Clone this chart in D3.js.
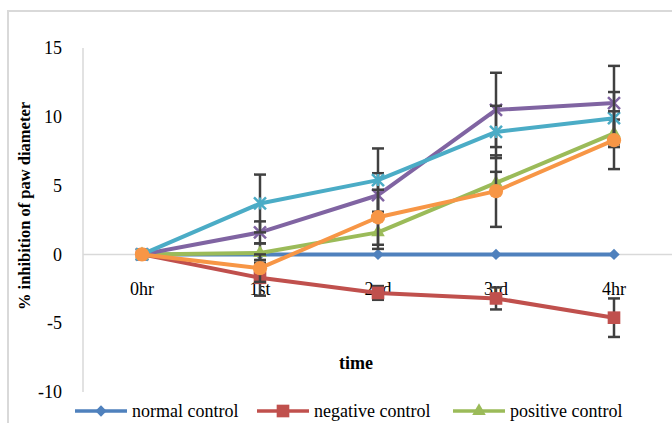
<!DOCTYPE html>
<html>
<head>
<meta charset="utf-8">
<script src="https://cdn.jsdelivr.net/npm/d3@7"></script>
<style>
  html, body { margin: 0; padding: 0; background: #fff; }
  svg { display: block; font-family: "Liberation Serif", "Times New Roman", serif; }
</style>
</head>
<body>
<div id="chart"></div>
<script>
// categories on the x axis
const categories = ["0hr", "1st", "2nd", "3rd", "4hr"];
const yTicks = [-10, -5, 0, 5, 10, 15];

const seriesNames = ["normal control", "negative control", "positive control", "extract 1", "extract 2", "extract 3"];
const colors = ["#4F81BD", "#C0504D", "#9BBB59", "#8064A2", "#4BACC6", "#F79646"];
const markers = ["diamond", "square", "triangle", "x", "star", "circle"];

// values
const normalControl = [0, 0, 0, 0, 0];
const negativeControl = [0, -1.7, -2.8, -3.2, -4.6];
const positiveControl = [0, 0.1, 1.6, 5.2, 8.8];
const extract1 = [0, 1.6, 4.3, 10.5, 11.0];
const extract2 = [0, 3.7, 5.4, 8.9, 9.9];
const extract3 = [0, -1.0, 2.7, 4.6, 8.3];

// error bar (+/-) sizes
const normalErr = [0, 0, 0, 0, 0];
const negativeErr = [0, 1.3, 0.5, 0.8, 1.4];
const positiveErr = [0, 0.7, 1.2, 0.8, 1.0];
const extract1Err = [0, 0.8, 1.6, 2.7, 2.7];
const extract2Err = [0, 2.1, 2.3, 1.9, 1.9];
const extract3Err = [0, 1.0, 2.0, 2.6, 2.1];

const allValues = [normalControl, negativeControl, positiveControl, extract1, extract2, extract3];
const allErrs = [normalErr, negativeErr, positiveErr, extract1Err, extract2Err, extract3Err];

const W = 672, H = 423;
const plot = { left: 83, right: 673, top: 48, bottom: 392 };

const svg = d3.select("#chart").append("svg")
  .attr("width", W).attr("height", H);

// outer chart frame
svg.append("rect")
  .attr("x", 8).attr("y", 11)
  .attr("width", 720).attr("height", 460)
  .attr("fill", "#fff")
  .attr("stroke", "#d9d9d9").attr("stroke-width", 2);

const x = d3.scaleBand().domain(categories).range([plot.left, plot.right]);
const y = d3.scaleLinear().domain([-10, 15]).range([plot.bottom, plot.top]);
const cx = c => x(c) + x.bandwidth() / 2;

// y axis line and zero line
svg.append("line")
  .attr("x1", plot.left).attr("x2", plot.left)
  .attr("y1", y(15)).attr("y2", y(-10))
  .attr("stroke", "#d9d9d9").attr("stroke-width", 1.5);
svg.append("line")
  .attr("x1", plot.left).attr("x2", plot.right)
  .attr("y1", y(0)).attr("y2", y(0))
  .attr("stroke", "#d9d9d9").attr("stroke-width", 1.5);

// y tick labels
const yAxis = svg.append("g")
  .attr("transform", `translate(${plot.left},0)`)
  .call(d3.axisLeft(y).tickValues(yTicks).tickSize(0).tickPadding(21).tickFormat(d => String(d)));
yAxis.select(".domain").remove();
yAxis.attr("font-family", null);
yAxis.selectAll("text")
  .attr("font-family", "Liberation Serif").attr("font-size", 18).attr("fill", "#000");

// category labels
const xAxis = svg.append("g")
  .attr("transform", `translate(0,${y(0)})`)
  .call(d3.axisBottom(x).tickSize(0).tickPadding(28));
xAxis.select(".domain").remove();
xAxis.attr("font-family", null);
xAxis.selectAll("text")
  .attr("font-family", "Liberation Serif").attr("font-size", 18).attr("fill", "#000");

// axis titles
svg.append("text")
  .attr("transform", "translate(24,206) rotate(-90)")
  .attr("text-anchor", "middle").attr("dominant-baseline", "central")
  .attr("font-size", 16.5).attr("font-weight", "bold")
  .text("% inhibition of paw diameter");
svg.append("text")
  .attr("x", 356).attr("y", 369)
  .attr("text-anchor", "middle")
  .attr("font-size", 18).attr("font-weight", "bold")
  .text("time");

// custom marker shapes
const starSymbol = {
  draw(ctx, size) {
    const r = Math.sqrt(size) / 2;
    ctx.moveTo(-r, -r); ctx.lineTo(r, r);
    ctx.moveTo(-r, r); ctx.lineTo(r, -r);
    ctx.moveTo(0, -r); ctx.lineTo(0, r);
  }
};
const xSymbol = {
  draw(ctx, size) {
    const r = Math.sqrt(size) / 2;
    ctx.moveTo(-r, -r); ctx.lineTo(r, r);
    ctx.moveTo(-r, r); ctx.lineTo(r, -r);
  }
};

function drawMarker(g, kind, color, px, py) {
  if (kind === "diamond") {
    g.append("path").attr("d", d3.symbol(d3.symbolSquare, 64)())
      .attr("transform", `translate(${px},${py}) rotate(45)`).attr("fill", color);
  } else if (kind === "square") {
    g.append("path").attr("d", d3.symbol(d3.symbolSquare, 160)())
      .attr("transform", `translate(${px},${py})`).attr("fill", color);
  } else if (kind === "triangle") {
    g.append("path").attr("d", d3.symbol(d3.symbolTriangle, 80)())
      .attr("transform", `translate(${px},${py})`).attr("fill", color);
  } else if (kind === "circle") {
    g.append("path").attr("d", d3.symbol(d3.symbolCircle, 160)())
      .attr("transform", `translate(${px},${py})`).attr("fill", color);
  } else if (kind === "x") {
    g.append("path").attr("d", d3.symbol(xSymbol, 144)())
      .attr("transform", `translate(${px},${py})`)
      .attr("fill", "none").attr("stroke", color).attr("stroke-width", 2.5);
  } else if (kind === "star") {
    g.append("path").attr("d", d3.symbol(starSymbol, 144)())
      .attr("transform", `translate(${px},${py})`)
      .attr("fill", "none").attr("stroke", color).attr("stroke-width", 2.5);
  }
}

const line = d3.line()
  .x((d, i) => cx(categories[i]))
  .y(d => y(d));

allValues.forEach((vals, si) => {
  const g = svg.append("g");
  const errs = allErrs[si];

  // error bars
  vals.forEach((v, i) => {
    if (!errs[i]) return;
    const px = cx(categories[i]);
    const eg = g.append("g").attr("stroke", "#404040").attr("stroke-width", 2.5);
    eg.append("line").attr("x1", px).attr("x2", px)
      .attr("y1", y(v + errs[i])).attr("y2", y(v - errs[i]));
    [v + errs[i], v - errs[i]].forEach(e => {
      eg.append("line").attr("x1", px - 6).attr("x2", px + 6)
        .attr("y1", y(e)).attr("y2", y(e));
    });
  });

  g.append("path").datum(vals)
    .attr("d", line)
    .attr("fill", "none")
    .attr("stroke", colors[si]).attr("stroke-width", 4)
    .attr("stroke-linejoin", "round");

  vals.forEach((v, i) => drawMarker(g, markers[si], colors[si], cx(categories[i]), y(v)));
});

// legend (only the first row is inside the picture)
const legendX = [75, 257, 453];
legendX.forEach((lx, si) => {
  const lg = svg.append("g").attr("transform", `translate(${lx},411)`);
  lg.append("line").attr("x1", 0).attr("x2", 52).attr("y1", 0).attr("y2", 0)
    .attr("stroke", colors[si]).attr("stroke-width", 3.5);
  drawMarker(lg, markers[si], colors[si], 26, 0);
  lg.append("text").attr("x", 57).attr("y", 0)
    .attr("dominant-baseline", "central")
    .attr("font-size", 18).attr("fill", "#000")
    .text(seriesNames[si]);
});
</script>
</body>
</html>
